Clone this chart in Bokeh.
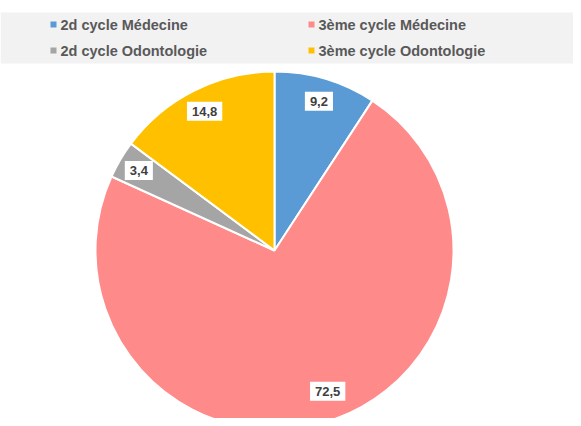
import math
from bokeh.plotting import figure
from bokeh.models import Range1d, ColumnDataSource
from bokeh.core.properties import value
from bokeh.embed import file_html
from bokeh.resources import INLINE

categories = ["2d cycle Médecine", "3ème cycle Médecine", "2d cycle Odontologie", "3ème cycle Odontologie"]
values = [9.2, 72.5, 3.4, 14.8]
labels = ["9,2", "72,5", "3,4", "14,8"]
colors = ["#5B9BD5", "#FF8A8A", "#A5A5A5", "#FFC000"]

# layout/style config
W, H = 573, 418
CX, CY, R = 274, 168, 179
label_r = [0.87, 0.84, 0.88, 0.87]
label_da = [0.0, 4.5, 0.0, 0.0]  # degrees

total = sum(values)
starts, ends, lx, ly = [], [], [], []
cum = 0.0
for i, v in enumerate(values):
    a0 = math.pi / 2 - 2 * math.pi * cum / total
    cum += v
    a1 = math.pi / 2 - 2 * math.pi * cum / total
    starts.append(a1)
    ends.append(a0)
    mid = (a0 + a1) / 2 + math.radians(label_da[i])
    lx.append(CX + label_r[i] * R * math.cos(mid))
    ly.append(CY + label_r[i] * R * math.sin(mid))

src = ColumnDataSource(dict(start=starts, end=ends, color=colors, cat=categories,
                            lx=lx, ly=ly, lab=labels))

p = figure(width=W, height=H, output_backend="svg", toolbar_location=None,
           x_range=Range1d(0, W), y_range=Range1d(0, H), min_border=0,
           match_aspect=False)
p.axis.visible = False
p.grid.visible = False
p.outline_line_color = None
p.background_fill_color = "white"
p.border_fill_color = "white"

p.wedge(x=CX, y=CY, radius=R, start_angle="start", end_angle="end",
        direction="anticlock", fill_color="color", line_color="white",
        line_width=2, source=src)

p.text(x="lx", y="ly", text="lab", source=src, text_align="center",
       text_baseline="middle", text_font=value("Liberation Sans"),
       text_font_style="bold", text_font_size="13px", text_color="#404040",
       background_fill_color="white", padding=5)

# legend band
p.quad(left=0, right=W, bottom=355, top=406, fill_color="#F2F2F2", line_color=None)

leg_x = [53, 311, 53, 311]
leg_y = [394, 394, 368, 368]
leg = ColumnDataSource(dict(x=leg_x, y=leg_y, tx=[x + 7 for x in leg_x], cat=categories, color=colors))
p.scatter(x="x", y="y", marker="square", size=6, fill_color="color", line_color=None, source=leg)
p.text(x="tx", y="y", text="cat", source=leg, text_align="left", text_baseline="middle",
       text_font=value("Liberation Sans"), text_font_style="bold", text_font_size="14.5px",
       text_color="#595959")

open("out.html", "w").write(file_html(p, INLINE))
